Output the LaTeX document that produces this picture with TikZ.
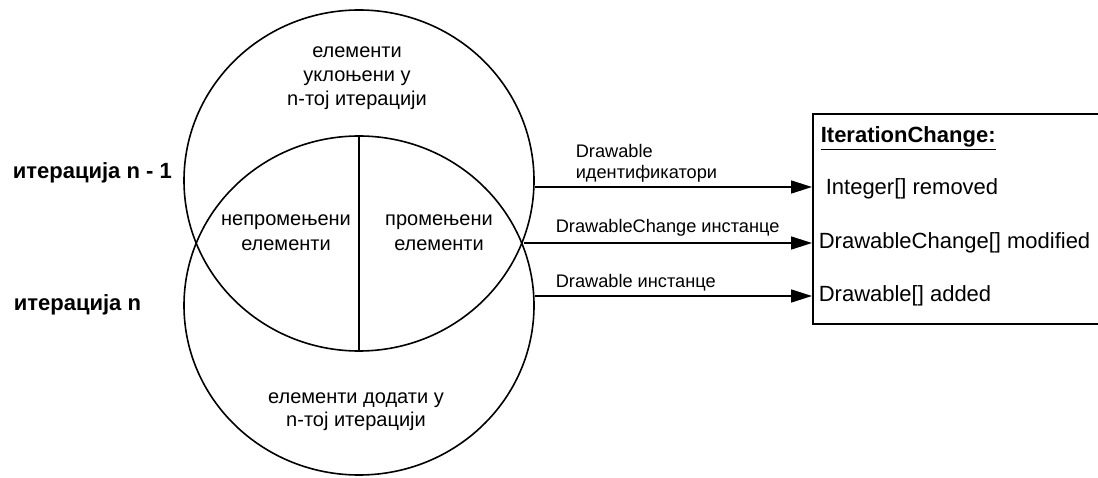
\documentclass[tikz,border=0pt]{standalone}
\usepackage{fontspec}
\setmainfont{Liberation Sans}
\usetikzlibrary{arrows.meta,shapes.geometric}
\begin{document}
\begin{tikzpicture}[x=1pt,y=-1pt, line width=1.6pt,
  ring/.style={draw, ellipse, minimum width=350pt, inner sep=0pt},
  big/.style={font=\fontsize{20}{24}\selectfont, inner sep=0pt, anchor=base},
  side/.style={font=\bfseries\fontsize{22}{24}\selectfont, inner sep=0pt, anchor=base west},
  lab/.style={font=\fontsize{18.2}{20}\selectfont, inner sep=0pt, anchor=base west},
  field/.style={font=\fontsize{22}{24}\selectfont, inner sep=0pt, anchor=base west},
  flow/.style={-{Triangle[length=21pt,width=13pt]}, line width=1.6pt}]
\clip (0,0) rectangle (1098,478);
\fill[white] (0,0) rectangle (1098,478);
% circles
\node[ring, minimum height=341pt] (prev) at (359,180.5) {};
\node[ring, minimum height=339pt] (cur) at (359,305.5) {};
\draw (cur.north) -- (prev.south);
% circle texts
\node[big] (t1) at (357,58) {елементи};
\node[big] (t2) at (357,82) {уклоњени у};
\node[big] (t3) at (357,106) {n-тој итерацији};
\node[big] (u1) at (286,226) {непромењени};
\node[big] (u2) at (286,251) {елементи};
\node[big] (c1) at (439,226) {промењени};
\node[big] (c2) at (439,251) {елементи};
\node[big] (b1) at (356,403) {елементи додати у};
\node[big] (b2) at (356,426) {n-тој итерацији};
% side labels
\node[side] (itp) at (12,179) {итерација n - 1};
\node[side] (itn) at (13,311) {итерација n};
% box
\node[draw, inner sep=0pt, minimum width=298pt, minimum height=210pt, anchor=north west] (box) at (812,113) {};
\node[field, font=\bfseries\fontsize{22}{24}\selectfont] (title) at (820,143) {\underline{IterationChange:}};
\node[field] (f1) at (825,195) {Integer[] removed};
\node[field] (f2) at (818,249) {DrawableChange[] modified};
\node[field] (f3) at (818,302) {Drawable[] added};
% arrow labels
\node[lab] (l1a) at (575,158) {Drawable};
\node[lab] (l1b) at (575,179) {идентификатори};
\node[lab] (l2) at (555,233) {DrawableChange инстанце};
\node[lab] (l3) at (555,288) {Drawable инстанце};
% arrows
\coordinate (s1) at (535,187);
\coordinate (s2) at (524,243);
\coordinate (s3) at (535,296);
\draw[flow] (s1) -- (s1 -| box.west);
\draw[flow] (s2) -- (s2 -| box.west);
\draw[flow] (s3) -- (s3 -| box.west);
\end{tikzpicture}
\end{document}
